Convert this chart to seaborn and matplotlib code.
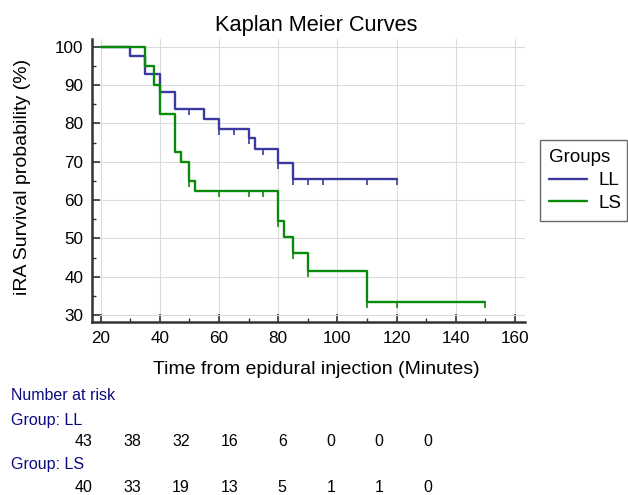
import matplotlib
matplotlib.use("Agg")
import matplotlib.pyplot as plt
from matplotlib.path import Path
from matplotlib.ticker import MultipleLocator
import seaborn as sns
import pandas as pd
import numpy as np

# Kaplan-Meier step values
ll_time = [20, 30, 35, 40, 45, 55, 60, 70, 72, 80, 85, 120]
ll_surv = [100, 97.7, 93.0, 88.3, 83.7, 81.1, 78.6, 76.2, 73.2, 69.7, 65.4, 65.4]
ls_time = [20, 35, 38, 40, 45, 47, 50, 52, 80, 82, 85, 90, 110, 150]
ls_surv = [100, 95.0, 90.0, 82.5, 72.5, 70.0, 65.0, 62.3, 54.5, 50.3, 46.2, 41.6, 33.3, 33.3]

# censored observations
ll_cens = [50, 60, 65, 70, 75, 80, 85, 90, 95, 110, 120]
ls_cens = [50, 60, 70, 75, 80, 85, 90, 110, 120, 150]

groups = ["LL", "LS"]
colors = {"LL": "#3a3aa0", "LS": "#0a8a0a"}

# number at risk table
risk_ll = [43, 38, 32, 16, 6, 0, 0, 0]
risk_ls = [40, 33, 19, 13, 5, 1, 1, 0]

x_ticks = [20, 40, 60, 80, 100, 120, 140, 160]
y_ticks = [30, 40, 50, 60, 70, 80, 90, 100]


def step_value(times, surv, t):
    i = np.searchsorted(times, t, side="right") - 1
    return surv[i]


df = pd.concat([
    pd.DataFrame({"time": ll_time, "surv": ll_surv, "Group": "LL"}),
    pd.DataFrame({"time": ls_time, "surv": ls_surv, "Group": "LS"}),
])

sns.set_theme(style="ticks")
plt.rcParams["font.family"] = ["Liberation Sans", "DejaVu Sans"]
plt.rcParams["text.color"] = "black"
plt.rcParams["axes.labelcolor"] = "black"

W, H = 628, 495
fig = plt.figure(figsize=(W / 100, H / 100), dpi=100)
ax = fig.add_axes([91.7 / W, 1 - 322.3 / H, (525 - 91.7) / W, (322.3 - 39.3) / H])

sns.lineplot(data=df, x="time", y="surv", hue="Group", palette=colors,
             estimator=None, drawstyle="steps-post", linewidth=1.7,
             legend=False, ax=ax)
handles = list(ax.get_lines())

# censor ticks hang below the curve
tick_down = Path([(0, 0), (0, -1)], [Path.MOVETO, Path.LINETO])
for g, times, surv, cens in [("LL", ll_time, ll_surv, ll_cens),
                             ("LS", ls_time, ls_surv, ls_cens)]:
    cy = [step_value(times, surv, c) for c in cens]
    ax.plot(cens, cy, linestyle="none", marker=tick_down, markersize=9,
            markeredgewidth=1.2, color=colors[g])

ax.set_xlim(16.96, 163.4)
ax.set_ylim(28.1, 101.93)
ax.set_xticks(x_ticks)
ax.set_yticks(y_ticks)
ax.xaxis.set_minor_locator(MultipleLocator(10))
ax.yaxis.set_minor_locator(MultipleLocator(5))
ax.grid(True, which="major", color="#dcdcdc", linewidth=0.8)
ax.set_axisbelow(True)

sns.despine(ax=ax)
for s in ["left", "bottom"]:
    ax.spines[s].set_linewidth(1.8)
    ax.spines[s].set_color("#333333")
ax.tick_params(which="major", direction="in", length=6, width=1.2,
               color="#333333", labelsize=12.3, pad=6, labelcolor="black")
ax.tick_params(which="minor", direction="in", length=3, width=1.0, color="#333333")

ax.set_xlabel("Time from epidural injection (Minutes)", fontsize=14, labelpad=11, color="black")
ax.set_ylabel("iRA Survival probability (%)", fontsize=14, labelpad=17, color="black")
ax.xaxis.label.set_x(0.519)
ax.yaxis.label.set_y(0.515)
ax.set_title("Kaplan Meier Curves", fontsize=15.7, pad=6, x=0.519, color="black")

leg = ax.legend(handles, groups, title="Groups", loc="upper left",
                bbox_to_anchor=(540 / W, 1 - 220 / H, 87 / W, 80 / H),
                bbox_transform=fig.transFigure, mode="expand",
                fontsize=13.5, title_fontsize=13.5, frameon=True, fancybox=False,
                handlelength=2.0, handletextpad=0.6, labelspacing=0.3,
                borderpad=0.5, borderaxespad=0)
leg._legend_box.align = "left"
leg.get_frame().set_edgecolor("#444444")
leg.get_frame().set_linewidth(1.0)
for line in leg.get_lines():
    line.set_linewidth(1.7)
for t in leg.get_texts():
    t.set_color("black")
leg.get_title().set_color("black")

# number at risk block
navy = "#0a0a80"
fs = 11.5
fig.text(11 / W, 1 - 395 / H, "Number at risk", color=navy, fontsize=fs, va="center")
fig.text(11 / W, 1 - 420 / H, "Group: LL", color=navy, fontsize=fs, va="center")
fig.text(11 / W, 1 - 465 / H, "Group: LS", color=navy, fontsize=fs, va="center")
for i, (a, b) in enumerate(zip(risk_ll, risk_ls)):
    xr = (92.7 + 48.5 * i) / W
    fig.text(xr, 1 - 442 / H, str(a), fontsize=fs, ha="right", va="center", color="black")
    fig.text(xr, 1 - 487 / H, str(b), fontsize=fs, ha="right", va="center", color="black")

fig.savefig("out.png", dpi=100)
